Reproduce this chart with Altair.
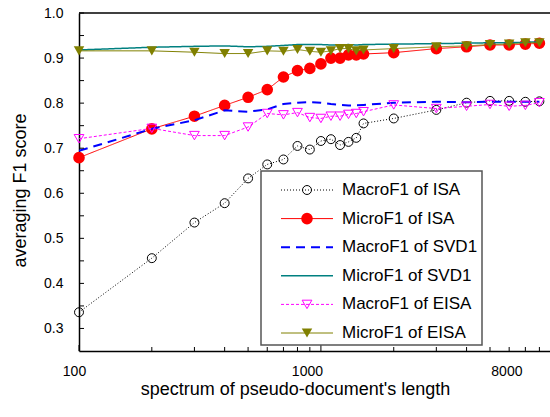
import altair as alt
import pandas as pd

# ---------------- data ----------------
X_VALUES = [100, 200, 300, 400, 500, 600, 700, 800, 900, 1000, 1100, 1200,
            1300, 1400, 1500, 2000, 3000, 4000, 5000, 6000, 7000, 8000]

SERIES = ["MacroF1 of ISA", "MicroF1 of ISA", "MacroF1 of SVD1",
          "MicroF1 of SVD1", "MacroF1 of EISA", "MicroF1 of EISA"]

MACRO_ISA = [0.336, 0.456, 0.535, 0.578, 0.633, 0.664, 0.675, 0.705, 0.697, 0.716, 0.720,
             0.707, 0.714, 0.723, 0.755, 0.766, 0.785, 0.801, 0.805, 0.805, 0.803, 0.804]
MICRO_ISA = [0.679, 0.743, 0.771, 0.795, 0.813, 0.830, 0.858, 0.872, 0.877, 0.887, 0.900,
             0.900, 0.907, 0.907, 0.909, 0.912, 0.921, 0.925, 0.929, 0.929, 0.931, 0.933]
MACRO_SVD1 = [0.694, 0.743, 0.762, 0.784, 0.781, 0.786, 0.798, 0.801, 0.802, 0.801, 0.798,
              0.796, 0.795, 0.795, 0.796, 0.801, 0.803, 0.802, 0.803, 0.803, 0.803, 0.803]
MICRO_SVD1 = [0.918, 0.924, 0.926, 0.927, 0.925, 0.926, 0.928, 0.930, 0.930, 0.930, 0.929,
              0.929, 0.930, 0.929, 0.930, 0.931, 0.932, 0.933, 0.934, 0.934, 0.935, 0.936]
MACRO_EISA = [0.721, 0.744, 0.728, 0.728, 0.747, 0.777, 0.774, 0.779, 0.768, 0.766, 0.771,
              0.771, 0.775, 0.777, 0.781, 0.796, 0.788, 0.793, 0.797, 0.793, 0.795, 0.801]
MICRO_EISA = [0.916, 0.916, 0.913, 0.910, 0.910, 0.916, 0.915, 0.919, 0.915, 0.913, 0.916,
              0.921, 0.921, 0.916, 0.918, 0.921, 0.925, 0.927, 0.930, 0.931, 0.934, 0.934]

VALUES = [MACRO_ISA, MICRO_ISA, MACRO_SVD1, MICRO_SVD1, MACRO_EISA, MICRO_EISA]

X_LABELS = [100, 1000, 8000]
X_MAJOR_TICKS = [100, 1000]
X_MINOR_TICKS = [200, 300, 400, 500, 600, 700, 800, 900,
                 2000, 3000, 4000, 5000, 6000, 7000, 8000]
Y_LABELS = [0.3, 0.4, 0.5, 0.6, 0.7, 0.8, 0.9, 1.0]
Y_TICKS = [0.3, 0.35, 0.4, 0.45, 0.5, 0.55, 0.6, 0.65, 0.7, 0.75,
           0.8, 0.85, 0.9, 0.95, 1.0]

# ---------------- styles ----------------
FONT = "Liberation Sans"
W, H = 471, 338
XDOM = [100, 8850]
YDOM = [0.25, 1.0]

STYLE = {
    "MacroF1 of ISA":  dict(color="#000000", dash=[1, 2], width=1.0, shape="circle", filled=False, size=80),
    "MicroF1 of ISA":  dict(color="#ff0000", dash=[1, 0], width=1.0, shape="circle", filled=True, size=135),
    "MacroF1 of SVD1": dict(color="#0000ff", dash=[9, 6], width=2.0, shape=None),
    "MicroF1 of SVD1": dict(color="#008080", dash=[1, 0], width=1.5, shape=None),
    "MacroF1 of EISA": dict(color="#ff00ff", dash=[3, 2], width=1.0, shape="triangle-down", filled=False, size=95),
    "MicroF1 of EISA": dict(color="#808000", dash=[1, 0], width=1.0, shape="triangle-down", filled=True, size=110),
}


def xs():
    return alt.Scale(type="log", domain=XDOM, nice=False)


def ys():
    return alt.Scale(domain=YDOM, nice=False, zero=False)


x_axis = alt.Axis(
    values=X_LABELS, format="d", grid=False, ticks=False, tickSize=0, labelFlush=False,
    labelFont=FONT, labelFontSize=14, labelColor="black", labelPadding=13,
    labelOffset={"condition": [{"test": "datum.value == 8000", "value": -33},
                               {"test": "datum.value == 1000", "value": -14}],
                 "value": -5},
    domainColor="black", domainWidth=1.5, orient="bottom",
    title="spectrum of pseudo-document's length", titleFont=FONT, titleFontSize=18,
    titleFontWeight="normal", titleColor="black", titleX=216, titleY=43,
    titleBaseline="alphabetic", titleAlign="center",
)
y_axis = alt.Axis(
    values=Y_LABELS, format=".1f", grid=False, ticks=False, tickSize=0,
    labelFont=FONT, labelFontSize=14, labelColor="black", labelPadding=16,
    domainColor="black", domainWidth=1.5, orient="left",
    title="averaging F1 score", titleFont=FONT, titleFontSize=18,
    titleFontWeight="normal", titleColor="black", titleAngle=270,
    titleX=-54, titleY=177, titleBaseline="alphabetic", titleAlign="center",
)

layers = []
first = True
for name, vals in zip(SERIES, VALUES):
    st = STYLE[name]
    d = pd.DataFrame({"x": X_VALUES, "y": vals})
    xe = alt.X("x:Q", scale=xs(), axis=x_axis if first else None)
    ye = alt.Y("y:Q", scale=ys(), axis=y_axis if first else None)
    first = False
    layers.append(
        alt.Chart(d).mark_line(color=st["color"], strokeDash=st["dash"],
                               strokeWidth=st["width"], clip=True)
        .encode(x=xe, y=ye)
    )
    if st["shape"]:
        layers.append(
            alt.Chart(d).mark_point(shape=st["shape"], filled=st["filled"],
                                    size=st["size"], color=st["color"],
                                    strokeWidth=1, opacity=1)
            .encode(x=alt.X("x:Q", scale=xs(), axis=None),
                    y=alt.Y("y:Q", scale=ys(), axis=None))
        )

# inward tick marks
layers.append(
    alt.Chart(pd.DataFrame({"v": Y_TICKS})).mark_rule(color="black", strokeWidth=1)
    .encode(y=alt.Y("v:Q", scale=ys(), axis=None), x=alt.value(0), x2=alt.value(5))
)
layers.append(
    alt.Chart(pd.DataFrame({"v": X_MAJOR_TICKS})).mark_rule(color="black", strokeWidth=1)
    .encode(x=alt.X("v:Q", scale=xs(), axis=None), y=alt.value(H), y2=alt.value(H - 6))
)
layers.append(
    alt.Chart(pd.DataFrame({"v": X_MINOR_TICKS})).mark_rule(color="black", strokeWidth=1)
    .encode(x=alt.X("v:Q", scale=xs(), axis=None), y=alt.value(H), y2=alt.value(H - 4))
)
# top frame line
layers.append(
    alt.Chart(alt.Data(values=[{}])).mark_rule(color="black", strokeWidth=1.5)
    .encode(x=alt.value(0), x2=alt.value(W), y=alt.value(0))
)

# ---------------- legend ----------------
def y_leg():
    return alt.Y("series:N",
                 scale=alt.Scale(type="point", domain=SERIES, range=[177, 320], padding=0),
                 axis=None)


layers.append(
    alt.Chart(alt.Data(values=[{}])).mark_rect(fill="white", stroke="#555555", strokeWidth=1.5)
    .encode(x=alt.value(182), x2=alt.value(403), y=alt.value(158), y2=alt.value(332))
)
for name in SERIES:
    st = STYLE[name]
    ld = pd.DataFrame({"series": [name]})
    layers.append(
        alt.Chart(ld).mark_rule(color=st["color"], strokeDash=st["dash"], strokeWidth=st["width"])
        .encode(y=y_leg(), x=alt.value(202), x2=alt.value(254))
    )
    if st["shape"]:
        layers.append(
            alt.Chart(ld).mark_point(shape=st["shape"], filled=st["filled"], size=st["size"],
                                     color=st["color"], strokeWidth=1, opacity=1)
            .encode(y=y_leg(), x=alt.value(228))
        )
layers.append(
    alt.Chart(pd.DataFrame({"series": SERIES})).mark_text(
        align="left", baseline="middle", font=FONT, fontSize=17, color="black")
    .encode(y=y_leg(), x=alt.value(263), text="series:N")
)

chart = (
    alt.layer(*layers)
    .resolve_scale(x="independent", y="independent")
    .properties(
        width=W, height=H,
        autosize=alt.AutoSizeParams(type="none"),
        padding={"left": 79, "top": 13, "right": 0, "bottom": 66},
        background="white",
    )
    .configure_view(stroke=None)
)

chart.save("out.html", embed_options={"renderer": "svg", "actions": False})
